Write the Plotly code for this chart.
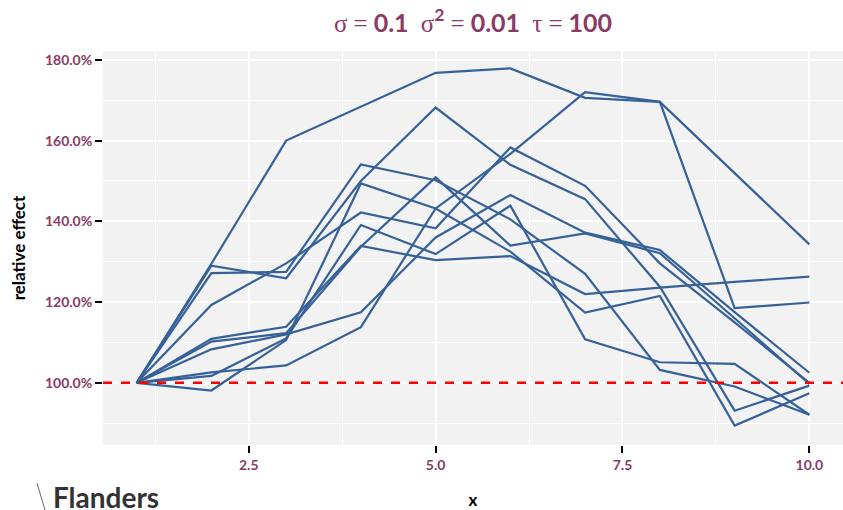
import plotly.graph_objects as go

x = list(range(1, 11))

# relative effect per simulated path (fraction of the starting value)
path_a = [1.000, 1.295, 1.600, 1.684, 1.768, 1.779, 1.706, 1.696, 1.520, 1.343]
path_b = [1.000, 1.026, 1.043, 1.138, 1.432, 1.567, 1.720, 1.696, 1.185, 1.199]
path_c = [1.000, 1.290, 1.259, 1.500, 1.682, 1.540, 1.455, 1.238, 0.931, 0.993]
path_d = [1.000, 1.193, 1.296, 1.422, 1.383, 1.583, 1.488, 1.296, 1.150, 1.000]
path_e = [1.000, 1.083, 1.120, 1.175, 1.360, 1.465, 1.372, 1.329, 1.175, 1.025]
path_f = [1.000, 1.102, 1.123, 1.337, 1.509, 1.340, 1.370, 1.321, 1.160, 0.997]
path_g = [1.000, 1.109, 1.139, 1.339, 1.304, 1.314, 1.220, 1.236, 1.250, 1.263]
path_h = [1.000, 1.017, 1.110, 1.391, 1.319, 1.439, 1.108, 1.051, 1.047, 0.921]
path_i = [1.000, 1.272, 1.275, 1.541, 1.502, 1.405, 1.270, 1.032, 0.991, 0.921]
path_j = [1.000, 0.981, 1.106, 1.494, 1.432, 1.325, 1.174, 1.215, 0.894, 0.974]
paths = [path_a, path_b, path_c, path_d, path_e, path_f, path_g, path_h, path_i, path_j]

baseline = 1.0
x_ticks = [2.5, 5.0, 7.5, 10.0]
y_ticks = [1.0, 1.2, 1.4, 1.6, 1.8]

line_color = "#366198"
accent = "#8A3A66"
font_family = "Lato"
serif = "Liberation Serif"

fig = go.Figure()
for p in paths:
    fig.add_trace(go.Scatter(x=x, y=p, mode="lines",
                             line=dict(color=line_color, width=2.2),
                             showlegend=False, hoverinfo="skip"))

fig.add_hline(y=baseline, line=dict(color="#FF0000", width=2.5, dash="dash"))


def sym(ch):
    return f'<span style="font-family:{serif};font-weight:normal">{ch}</span>'


title_text = (f"{sym('σ')} {sym('=')} 0.1  {sym('σ')}<sup>2</sup> {sym('=')} 0.01  "
              f"{sym('τ')} {sym('=')} 100")

fig.update_layout(
    width=843, height=510,
    margin=dict(l=103, r=0, t=51, b=65),
    paper_bgcolor="white",
    plot_bgcolor="#F2F2F2",
    title=dict(text=title_text,
               x=(103 + 843) / 2 / 843, xanchor="center",
               y=1 - 23 / 510, yanchor="middle",
               font=dict(family=font_family, size=25, color=accent, weight="bold")),
    font=dict(family=font_family),
)

fig.update_xaxes(
    range=[0.55, 10.45], tickvals=x_ticks, tickformat=".1f",
    showgrid=True, gridcolor="white", gridwidth=2,
    minor=dict(tickvals=[1.25, 3.75, 6.25, 8.75], showgrid=True,
               gridcolor="white", gridwidth=1),
    zeroline=False, showline=False,
    ticks="outside", ticklen=7, tickwidth=2, tickcolor="black",
    tickfont=dict(family=font_family, size=14, color=accent, weight="bold"),
    title=dict(text="x", font=dict(family=font_family, size=17, color="black",
                                   weight="bold"), standoff=23),
)

fig.update_yaxes(
    range=[0.846, 1.822], tickvals=y_ticks, tickformat=".1%",
    showgrid=True, gridcolor="white", gridwidth=2,
    minor=dict(tickvals=[0.9, 1.1, 1.3, 1.5, 1.7], showgrid=True,
               gridcolor="white", gridwidth=1),
    zeroline=False, showline=False,
    ticks="outside", ticklen=7, tickwidth=2, tickcolor="black",
    tickfont=dict(family=font_family, size=14, color=accent, weight="bold"),
    title=dict(text="relative effect", font=dict(family=font_family, size=17,
                                                 color="black", weight="bold"),
               standoff=14),
)

# brand mark in the lower-left corner
fig.add_annotation(text="Flanders", xref="paper", yref="paper",
                   x=-52 / 740, y=-52 / 394, xanchor="left", yanchor="middle",
                   showarrow=False,
                   font=dict(family=font_family, size=28, color="#333333", weight="bold"))
fig.add_shape(type="line", xref="paper", yref="paper",
              x0=-66 / 740, y0=-38 / 394, x1=-58 / 740, y1=-65 / 394,
              line=dict(color="#666666", width=1))

fig.write_html("out.html")
